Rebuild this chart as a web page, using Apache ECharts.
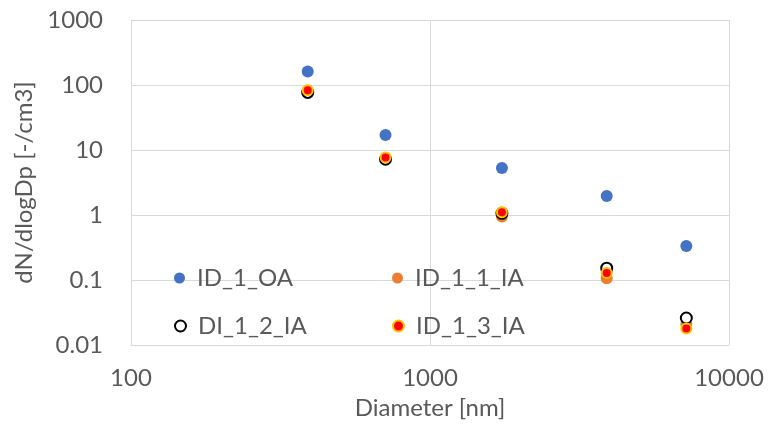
<!DOCTYPE html>
<html>
<head>
<meta charset="utf-8">
<script src="https://cdn.jsdelivr.net/npm/echarts@6/dist/echarts.min.js"></script>
<style>
  html, body { margin: 0; padding: 0; background: #fff; }
  #chart { width: 768px; height: 428px; }
</style>
</head>
<body>
<div id="chart"></div>
<script>
// Particle size distribution: number concentration per size bin
const diameters = [390, 710, 1740, 3900, 7200];          // nm
const idOA   = [161, 17, 5.3, 1.96, 0.334];               // ID_1_OA
const id11IA = [80, 7.5, 0.95, 0.106, 0.021];             // ID_1_1_IA
const di12IA = [77, 7.2, 1.06, 0.152, 0.026];             // DI_1_2_IA
const id13IA = [83, 7.7, 1.1, 0.128, 0.018];              // ID_1_3_IA

const seriesNames = ['ID_1_OA', 'ID_1_1_IA', 'DI_1_2_IA', 'ID_1_3_IA'];
const xTickLabels = ['100', '1000', '10000'];
const yTickLabels = ['0.01', '0.1', '1', '10', '100', '1000'];

const FONT = 'Lato';
const TXT = '#595959';
const GRID = '#D9D9D9';

function pairs(ys) { return diameters.map((d, i) => [d, ys[i]]); }

function tickLabel(list) {
  return function (v) {
    const exp = Math.round(Math.log10(v));
    const hit = list.find(s => Math.round(Math.log10(parseFloat(s))) === exp);
    return hit || '';
  };
}

const styles = [
  { symbolSize: 12, itemStyle: { color: '#4472C4', opacity: 1 } },
  { symbolSize: 12, itemStyle: { color: '#ED7D31', opacity: 1 } },
  { symbolSize: 11, itemStyle: { color: '#FFFFFF', borderColor: '#000000', borderWidth: 2, opacity: 1 } },
  { symbolSize: 10, itemStyle: { color: '#FF0000', borderColor: '#FFC000', borderWidth: 2, opacity: 1 } }
];
const values = [idOA, id11IA, di12IA, id13IA];

const legendPos = [
  { left: 174, top: 266 },
  { left: 392, top: 266 },
  { left: 174, top: 314 },
  { left: 392, top: 314 }
];

const chart = echarts.init(document.getElementById('chart'), null, { renderer: 'canvas' });
chart.setOption({
  backgroundColor: '#ffffff',
  animation: false,
  textStyle: { fontFamily: FONT },
  grid: { left: 131, right: 39, top: 20, bottom: 83, containLabel: false },
  legend: seriesNames.map((n, i) => ({
    data: [n],
    left: legendPos[i].left,
    top: legendPos[i].top,
    icon: 'circle',
    itemWidth: 11,
    itemHeight: 11,
    itemGap: 0,
    padding: 0,
    textStyle: { color: TXT, fontSize: 24, fontFamily: FONT, padding: [0, 0, 0, 7] }
  })),
  xAxis: {
    type: 'log',
    logBase: 10,
    min: 100,
    max: 10000,
    name: 'Diameter [nm]',
    nameLocation: 'middle',
    nameGap: 51,
    nameTextStyle: { color: TXT, fontSize: 24, fontFamily: FONT },
    axisLine: { show: true, lineStyle: { color: GRID, width: 1 } },
    axisTick: { show: false },
    axisLabel: { color: TXT, fontSize: 24, fontFamily: FONT, margin: 21, formatter: tickLabel(xTickLabels) },
    splitLine: { show: true, lineStyle: { color: GRID, width: 1 } }
  },
  yAxis: {
    type: 'log',
    logBase: 10,
    min: 0.01,
    max: 1000,
    name: 'dN/dlogDp [-/cm3]',
    nameLocation: 'middle',
    nameGap: 95,
    nameTextStyle: { color: TXT, fontSize: 24, fontFamily: FONT },
    axisLine: { show: true, lineStyle: { color: GRID, width: 1 } },
    axisTick: { show: false },
    axisLabel: { color: TXT, fontSize: 24, fontFamily: FONT, margin: 28, formatter: tickLabel(yTickLabels) },
    splitLine: { show: true, lineStyle: { color: GRID, width: 1 } }
  },
  series: seriesNames.map((n, i) => ({
    name: n,
    type: 'scatter',
    symbol: 'circle',
    symbolSize: styles[i].symbolSize,
    itemStyle: styles[i].itemStyle,
    emphasis: { disabled: true },
    z: 2 + i,
    data: pairs(values[i])
  }))
});
</script>
</body>
</html>
